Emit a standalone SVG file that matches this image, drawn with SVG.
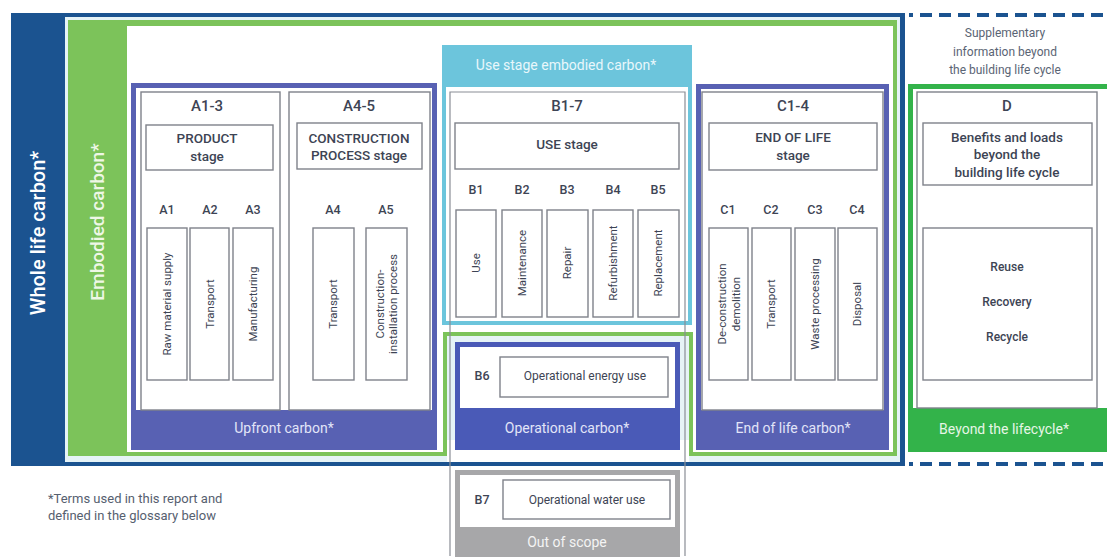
<svg xmlns="http://www.w3.org/2000/svg" width="1107" height="559" viewBox="0 0 1107 559">
<style>
text{font-family:Roboto,"Liberation Sans",Arial,sans-serif}
.box{fill:#fff;stroke:#7f828a;stroke-width:1.4}
.t{fill:#3d4454;text-anchor:middle}
.hd{font-size:15px;font-weight:500}
.st{font-size:13.5px;font-weight:500}
.lb{font-size:12.5px;font-weight:500}
.sm{font-size:11.5px}
.band{font-size:14px;fill:#e2e5f8;text-anchor:middle}
.pur{fill:#5861b3}
.thin{fill:none;stroke:#8a8e96;stroke-width:1.2}
</style>

<g id="whole-life">
<rect x="11" y="13" width="894" height="453" fill="#1b5390"/>
<rect x="65" y="17" width="835" height="445" fill="#e6f3f7"/>
<rect x="447" y="440" width="242" height="22" fill="#ffffff"/>
<text x="38" y="233" transform="rotate(-90 38 233)" dy="0.35em" fill="#ffffff" font-size="20" font-weight="500" text-anchor="middle">Whole life carbon*</text>
</g>

<g id="embodied">
<path d="M68 20 H897 V456 H689 V336 H447 V456 H68 Z" fill="#7cc35a"/>
<path d="M127 26 H893 V452 H693 V332 H443 V452 H127 Z" fill="#ffffff"/>
<text x="97" y="222" transform="rotate(-90 97 222)" dy="0.35em" fill="#eef7e6" font-size="19" font-weight="500" text-anchor="middle">Embodied carbon*</text>
</g>

<g id="use-stage-embodied">
<rect x="444" y="47" width="246" height="276" fill="#fff" stroke="#6cc5dc" stroke-width="4"/>
<rect x="442" y="45" width="250" height="42" fill="#6cc5dc"/>
<text x="566" y="65" dy="0.35em" class="band" style="fill:#e8f7fb">Use stage embodied carbon*</text>
</g>

<g id="upfront">
<rect x="133.5" y="85.5" width="301" height="362" fill="#fff" stroke="#5861b3" stroke-width="5"/>
<rect x="131" y="410" width="306" height="40" class="pur"/>
<text x="284" y="428" dy="0.35em" class="band">Upfront carbon*</text>
</g>

<g id="a1-3">
<rect x="141" y="92" width="139" height="318" class="box"/>
<text x="207" y="106" dy="0.35em" class="t hd">A1-3</text>
<rect x="146" y="125" width="127" height="45" class="box"/>
<text x="207" y="138" dy="0.35em" class="t st">PRODUCT</text>
<text x="207" y="156" dy="0.35em" class="t st">stage</text>
<text x="167" y="210" dy="0.35em" class="t lb">A1</text>
<text x="210" y="210" dy="0.35em" class="t lb">A2</text>
<text x="253" y="210" dy="0.35em" class="t lb">A3</text>
<rect x="147" y="228" width="40" height="152" class="box"/>
<rect x="190" y="228" width="39" height="152" class="box"/>
<rect x="233" y="228" width="40" height="152" class="box"/>
<text x="167" y="304" transform="rotate(-90 167 304)" dy="0.35em" class="t sm">Raw material supply</text>
<text x="210" y="304" transform="rotate(-90 210 304)" dy="0.35em" class="t sm">Transport</text>
<text x="253" y="304" transform="rotate(-90 253 304)" dy="0.35em" class="t sm">Manufacturing</text>
</g>

<g id="a4-5">
<rect x="289" y="92" width="141" height="318" class="box"/>
<text x="359" y="106" dy="0.35em" class="t hd">A4-5</text>
<rect x="297" y="123" width="125" height="46" class="box"/>
<text x="359" y="138" dy="0.35em" class="t st">CONSTRUCTION</text>
<text x="359" y="155" dy="0.35em" class="t st">PROCESS stage</text>
<text x="333" y="210" dy="0.35em" class="t lb">A4</text>
<text x="386" y="210" dy="0.35em" class="t lb">A5</text>
<rect x="313" y="228" width="41" height="152" class="box"/>
<rect x="366" y="228" width="41" height="152" class="box"/>
<text x="333" y="304" transform="rotate(-90 333 304)" dy="0.35em" class="t sm">Transport</text>
<text x="380" y="304" transform="rotate(-90 380 304)" dy="0.35em" class="t sm">Construction-</text>
<text x="393" y="304" transform="rotate(-90 393 304)" dy="0.35em" class="t sm">installation process</text>
</g>

<g id="b1-7">
<path d="M450 556 V92 H685 V556" class="thin"/>
<text x="567" y="106" dy="0.35em" class="t hd">B1-7</text>
<rect x="455" y="123" width="224" height="46" class="box"/>
<text x="567" y="144" dy="0.35em" class="t st">USE stage</text>
<text x="476" y="190" dy="0.35em" class="t lb">B1</text>
<text x="522" y="190" dy="0.35em" class="t lb">B2</text>
<text x="567" y="190" dy="0.35em" class="t lb">B3</text>
<text x="613" y="190" dy="0.35em" class="t lb">B4</text>
<text x="658" y="190" dy="0.35em" class="t lb">B5</text>
<rect x="456" y="210" width="40" height="107" class="box"/>
<rect x="502" y="210" width="40" height="107" class="box"/>
<rect x="547" y="210" width="41" height="107" class="box"/>
<rect x="593" y="210" width="40" height="107" class="box"/>
<rect x="638" y="210" width="41" height="107" class="box"/>
<text x="476" y="263" transform="rotate(-90 476 263)" dy="0.35em" class="t sm">Use</text>
<text x="522" y="263" transform="rotate(-90 522 263)" dy="0.35em" class="t sm">Maintenance</text>
<text x="567" y="263" transform="rotate(-90 567 263)" dy="0.35em" class="t sm">Repair</text>
<text x="613" y="263" transform="rotate(-90 613 263)" dy="0.35em" class="t sm">Refurbishment</text>
<text x="658" y="263" transform="rotate(-90 658 263)" dy="0.35em" class="t sm">Replacement</text>
</g>

<g id="operational">
<rect x="457.5" y="344.5" width="220" height="103" fill="#fff" stroke="#4a5ab7" stroke-width="5"/>
<rect x="455" y="408" width="225" height="42" fill="#4a5ab7"/>
<text x="482" y="376" dy="0.35em" class="t lb">B6</text>
<rect x="500" y="357" width="168" height="40" class="box"/>
<text x="585" y="376" dy="0.35em" class="t" style="font-size:12px">Operational energy use</text>
<text x="567" y="428" dy="0.35em" class="band">Operational carbon*</text>
</g>

<g id="c1-4">
<rect x="698.5" y="86.5" width="188" height="361" fill="#fff" stroke="#5861b3" stroke-width="5"/>
<rect x="696" y="410" width="193" height="40" class="pur"/>
<rect x="702" y="92" width="181" height="318" class="box"/>
<text x="793" y="106" dy="0.35em" class="t hd">C1-4</text>
<rect x="709" y="123" width="168" height="47" class="box"/>
<text x="793" y="137" dy="0.35em" class="t st">END OF LIFE</text>
<text x="793" y="155" dy="0.35em" class="t st">stage</text>
<text x="728" y="210" dy="0.35em" class="t lb">C1</text>
<text x="771" y="210" dy="0.35em" class="t lb">C2</text>
<text x="815" y="210" dy="0.35em" class="t lb">C3</text>
<text x="857" y="210" dy="0.35em" class="t lb">C4</text>
<rect x="709" y="228" width="39" height="152" class="box"/>
<rect x="752" y="228" width="39" height="152" class="box"/>
<rect x="795" y="228" width="40" height="152" class="box"/>
<rect x="838" y="228" width="39" height="152" class="box"/>
<text x="722" y="304" transform="rotate(-90 722 304)" dy="0.35em" class="t sm">De-construction</text>
<text x="736" y="304" transform="rotate(-90 736 304)" dy="0.35em" class="t sm">demolition</text>
<text x="771" y="304" transform="rotate(-90 771 304)" dy="0.35em" class="t sm">Transport</text>
<text x="815" y="304" transform="rotate(-90 815 304)" dy="0.35em" class="t sm">Waste processing</text>
<text x="857" y="304" transform="rotate(-90 857 304)" dy="0.35em" class="t sm">Disposal</text>
<text x="793" y="428" dy="0.35em" class="band">End of life carbon*</text>
</g>

<g id="supplementary">
<path d="M909 15 H1107 M909 464 H1107" fill="none" stroke="#1b5390" stroke-width="4" stroke-dasharray="12 7" stroke-dashoffset="8"/>
<text x="1005" y="33" dy="0.35em" class="t" style="font-size:12px;fill:#5a6474">Supplementary</text>
<text x="1005" y="52" dy="0.35em" class="t" style="font-size:12px;fill:#5a6474">information beyond</text>
<text x="1005" y="70" dy="0.35em" class="t" style="font-size:12px;fill:#5a6474">the building life cycle</text>
</g>

<g id="d">
<rect x="910.5" y="86.5" width="199" height="363" fill="#fff" stroke="#33b34a" stroke-width="5"/>
<rect x="908" y="408" width="199" height="44" fill="#33b34a"/>
<rect x="917" y="92" width="180" height="316" class="box"/>
<text x="1007" y="106" dy="0.35em" class="t hd">D</text>
<rect x="923" y="123" width="169" height="62" class="box"/>
<text x="1007" y="137" dy="0.35em" class="t st">Benefits and loads</text>
<text x="1007" y="154" dy="0.35em" class="t st">beyond the</text>
<text x="1007" y="172" dy="0.35em" class="t st">building life cycle</text>
<rect x="923" y="228" width="169" height="152" class="box"/>
<text x="1007" y="267" dy="0.35em" class="t" style="font-size:12px;font-weight:500">Reuse</text>
<text x="1007" y="302" dy="0.35em" class="t" style="font-size:12px;font-weight:500">Recovery</text>
<text x="1007" y="337" dy="0.35em" class="t" style="font-size:12px;font-weight:500">Recycle</text>
<text x="1004" y="429" dy="0.35em" class="band" style="fill:#e6f6e6">Beyond the lifecycle*</text>
</g>

<g id="out-of-scope">
<rect x="457.5" y="472.5" width="220" height="82" fill="#fff" stroke="#a7a7a9" stroke-width="5"/>
<rect x="455" y="527" width="225" height="30" fill="#a7a7a9"/>
<text x="482" y="500" dy="0.35em" class="t lb">B7</text>
<rect x="503" y="480" width="167" height="39" class="box"/>
<text x="587" y="500" dy="0.35em" class="t" style="font-size:12px">Operational water use</text>
<text x="567" y="542" dy="0.35em" class="band" style="fill:#f4f4f4">Out of scope</text>
</g>

<g id="footnote">
<text x="48" y="503" font-size="13" fill="#56606f">*Terms used in this report and</text>
<text x="48" y="520" font-size="13" fill="#56606f">defined in the glossary below</text>
</g>
</svg>
